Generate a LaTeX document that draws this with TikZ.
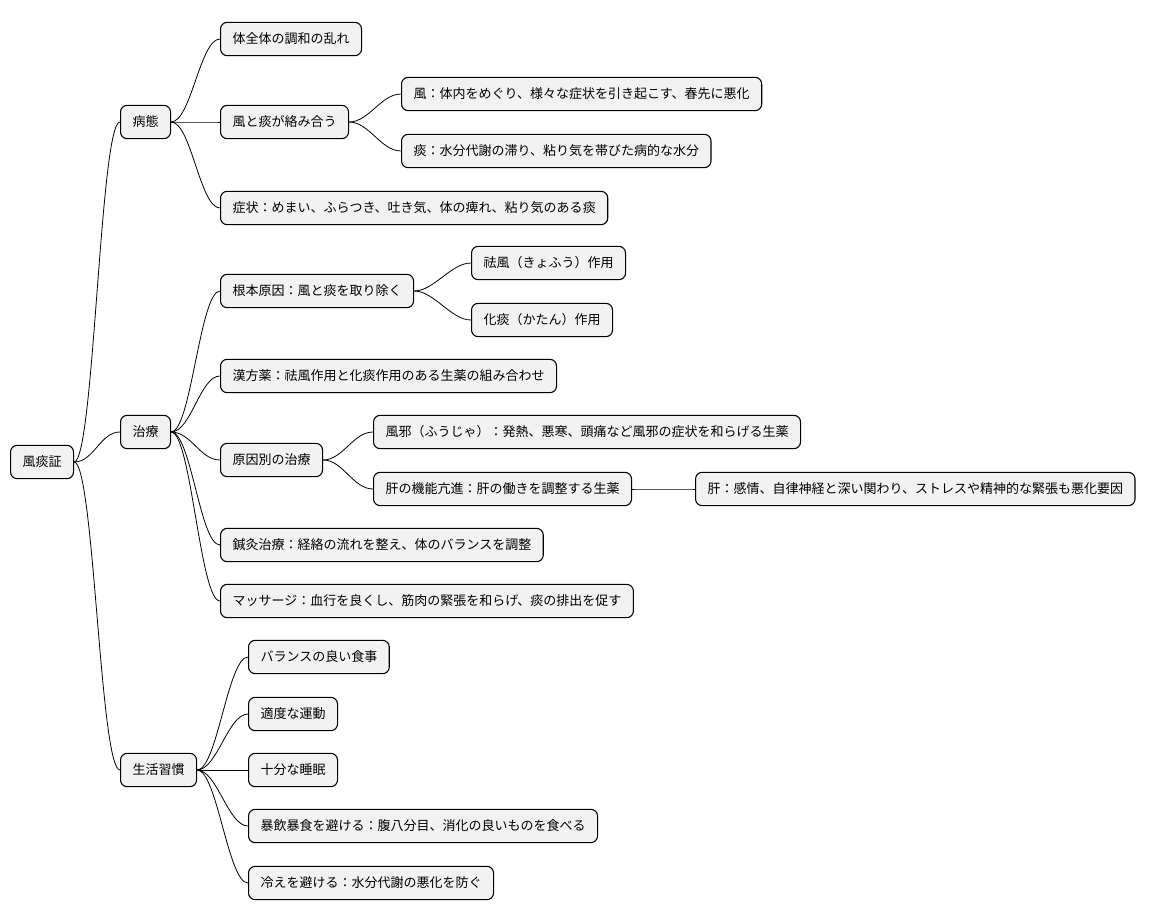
\documentclass[tikz,border=0pt]{standalone}
\usepackage{fontspec}
\setmainfont{Noto Sans CJK JP}
\begin{document}
\begin{tikzpicture}[x=0.75pt,y=-0.75pt]
	\tikzset{topic/.style = {draw,fill=black!5,rounded corners=5pt,anchor=west,minimum height=25pt,inner xsep=9pt,font=\fontsize{9.75}{12}\selectfont,line width=0.8pt}}
	\tikzset{link/.style = {line width=0.6pt}}
	\useasboundingbox (0,0) rectangle (1174,921);
	\node[topic] (root) at (10,462) {風痰証};
	\node[topic] (byotai) at (120,122) {病態};
	\node[topic] (b1) at (220,39) {体全体の調和の乱れ};
	\node[topic] (b2) at (220,122) {風と痰が絡み合う};
	\node[topic] (b21) at (401,94) {風：体内をめぐり、様々な症状を引き起こす、春先に悪化};
	\node[topic] (b22) at (401,151) {痰：水分代謝の滞り、粘り気を帯びた病的な水分};
	\node[topic] (b3) at (220,208) {症状：めまい、ふらつき、吐き気、体の痺れ、粘り気のある痰};
	\node[topic] (chiryo) at (120,432) {治療};
	\node[topic] (c1) at (220,291) {根本原因：風と痰を取り除く};
	\node[topic] (c11) at (471,263) {祛風（きょふう）作用};
	\node[topic] (c12) at (471,320) {化痰（かたん）作用};
	\node[topic] (c2) at (220,376) {漢方薬：祛風作用と化痰作用のある生薬の組み合わせ};
	\node[topic] (c3) at (220,460) {原因別の治療};
	\node[topic] (c31) at (373,432) {風邪（ふうじゃ）：発熱、悪寒、頭痛など風邪の症状を和らげる生薬};
	\node[topic] (c32) at (373,489) {肝の機能亢進：肝の働きを調整する生薬};
	\node[topic] (c321) at (695,489) {肝：感情、自律神経と深い関わり、ストレスや精神的な緊張も悪化要因};
	\node[topic] (c4) at (220,545) {鍼灸治療：経絡の流れを整え、体のバランスを調整};
	\node[topic] (c5) at (220,601) {マッサージ：血行を良くし、筋肉の緊張を和らげ、痰の排出を促す};
	\node[topic] (seikatsu) at (120,770) {生活習慣};
	\node[topic] (s1) at (248,657) {バランスの良い食事};
	\node[topic] (s2) at (248,714) {適度な運動};
	\node[topic] (s3) at (248,770) {十分な睡眠};
	\node[topic] (s4) at (248,826) {暴飲暴食を避ける：腹八分目、消化の良いものを食べる};
	\node[topic] (s5) at (248,883) {冷えを避ける：水分代謝の悪化を防ぐ};
	\foreach \p/\c in {root/byotai,root/chiryo,root/seikatsu,byotai/b1,byotai/b2,byotai/b3,b2/b21,b2/b22,chiryo/c1,chiryo/c2,chiryo/c3,chiryo/c4,chiryo/c5,c1/c11,c1/c12,c3/c31,c3/c32,c32/c321,seikatsu/s1,seikatsu/s2,seikatsu/s3,seikatsu/s4,seikatsu/s5}
		\draw[link] (\p.east) .. controls +(20,0) and +(-20,0) .. (\c.west);
\end{tikzpicture}
\end{document}
